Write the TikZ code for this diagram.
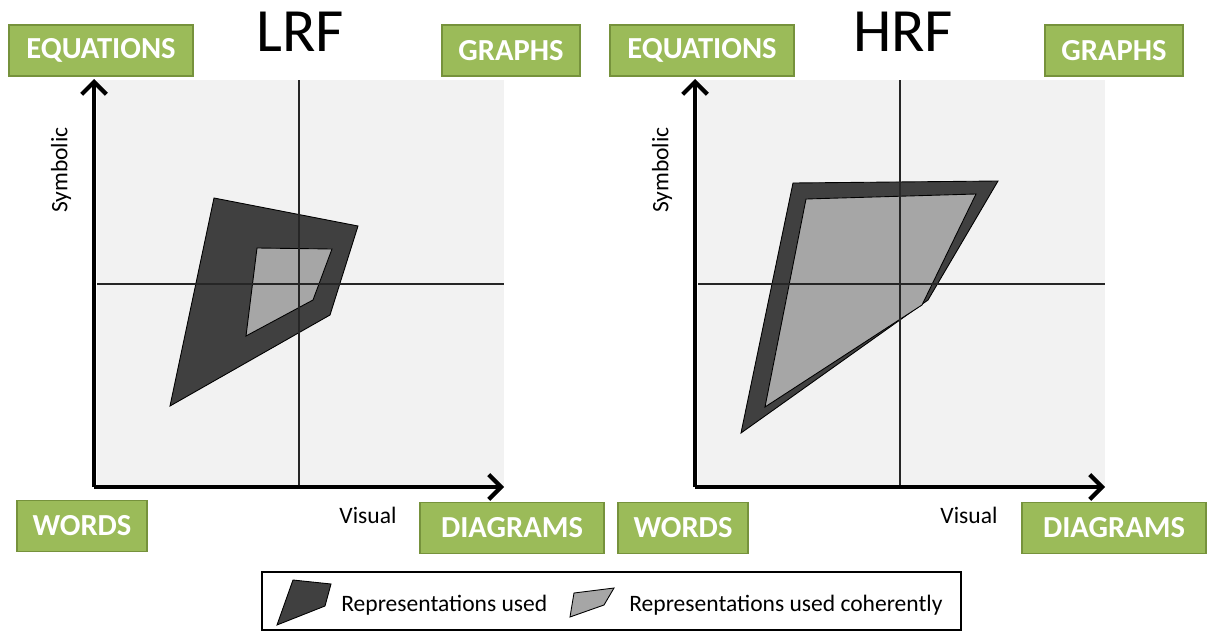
\documentclass[tikz,border=0pt]{standalone}
\usepackage{fontspec}
\setmainfont{Carlito}
\usetikzlibrary{arrows.meta}

\definecolor{tagGreen}{HTML}{9BBB59}
\definecolor{tagEdge}{HTML}{76923C}
\definecolor{panelBg}{HTML}{F2F2F2}
\definecolor{usedDark}{HTML}{404040}
\definecolor{usedLight}{HTML}{A6A6A6}

\tikzset{
  tag/.style={draw=tagEdge,fill=tagGreen,line width=0.9pt,text=white,
    font=\fontsize{17.4}{20}\selectfont\bfseries,minimum height=1.02cm,inner sep=0pt},
  title/.style={font=\fontsize{35}{40}\selectfont,inner sep=0pt},
  axislabel/.style={font=\fontsize{13.4}{16}\selectfont,inner sep=0pt},
  axis/.style={line width=2.8pt,-{Straight Barb[length=7pt,width=14pt,line width=2.4pt]}},
  cross/.style={line width=0.6pt,black!85},
  used/.style={fill=usedDark,draw=black,line width=0.5pt},
  coherent/.style={fill=usedLight,draw=black,line width=0.5pt}
}

\begin{document}
\begin{tikzpicture}[x=0.02cm,y=-0.02cm]
\useasboundingbox (0,0) rectangle (1211,632);

% LRF panel
\fill[panelBg] (97,80) rectangle (504,487);
\draw[used] (214,198) -- (358,226) -- (330,315) -- (170,406) -- cycle;
\draw[coherent] (257,248) -- (332,249) -- (313,300) -- (246,336) -- cycle;
\draw[cross] (299,80) -- (299,487);
\draw[cross] (97,284) -- (504,284);
\coordinate (lO) at (94,487);
\coordinate (lY) at (94,79);
\coordinate (lX) at (504,487);
\draw[axis] (lO) -- (lY);
\draw[axis] (lO) -- (lX);

\node[title] (lTitle) at (300,32) {LRF};
\node[tag,minimum width=3.68cm] (lEq) at (101,50.5) {EQUATIONS};
\node[tag,minimum width=2.76cm] (lGr) at (511,50.5) {GRAPHS};
\node[tag,minimum width=2.6cm] (lWo) at (82,526) {WORDS};
\node[tag,minimum width=3.68cm] (lDi) at (512,528) {DIAGRAMS};
\node[axislabel,rotate=90] (lSym) at (61,170) {Symbolic};
\node[axislabel] (lVis) at (368,515) {Visual};

% HRF panel
\fill[panelBg] (698,80) rectangle (1105,487);
\draw[used] (793,183) -- (998,181) -- (928,300) -- (741,433) -- cycle;
\draw[coherent] (806,199) -- (976,194) -- (922,305) -- (765,407) -- cycle;
\draw[cross] (900,80) -- (900,487);
\draw[cross] (698,284) -- (1105,284);
\coordinate (hO) at (695,487);
\coordinate (hY) at (695,79);
\coordinate (hX) at (1105,487);
\draw[axis] (hO) -- (hY);
\draw[axis] (hO) -- (hX);

\node[title] (hTitle) at (903,32) {HRF};
\node[tag,minimum width=3.68cm] (hEq) at (702,50.5) {EQUATIONS};
\node[tag,minimum width=2.76cm] (hGr) at (1114,50.5) {GRAPHS};
\node[tag,minimum width=2.6cm] (hWo) at (683,528) {WORDS};
\node[tag,minimum width=3.68cm] (hDi) at (1114,528) {DIAGRAMS};
\node[axislabel,rotate=90] (hSym) at (662,170) {Symbolic};
\node[axislabel] (hVis) at (969,515) {Visual};

% legend
\draw[line width=0.9pt] (262,572) rectangle (961,630);
\draw[used] (293,580) -- (331,584) -- (325,606) -- (277,625) -- cycle;
\node[axislabel,anchor=west] (usedTxt) at (341,605) {Representations used};
\draw[coherent] (574,593) -- (614,588) -- (604,605) -- (570,617) -- cycle;
\node[axislabel,anchor=west] (cohTxt) at (629,605) {Representations used coherently};
\end{tikzpicture}
\end{document}
